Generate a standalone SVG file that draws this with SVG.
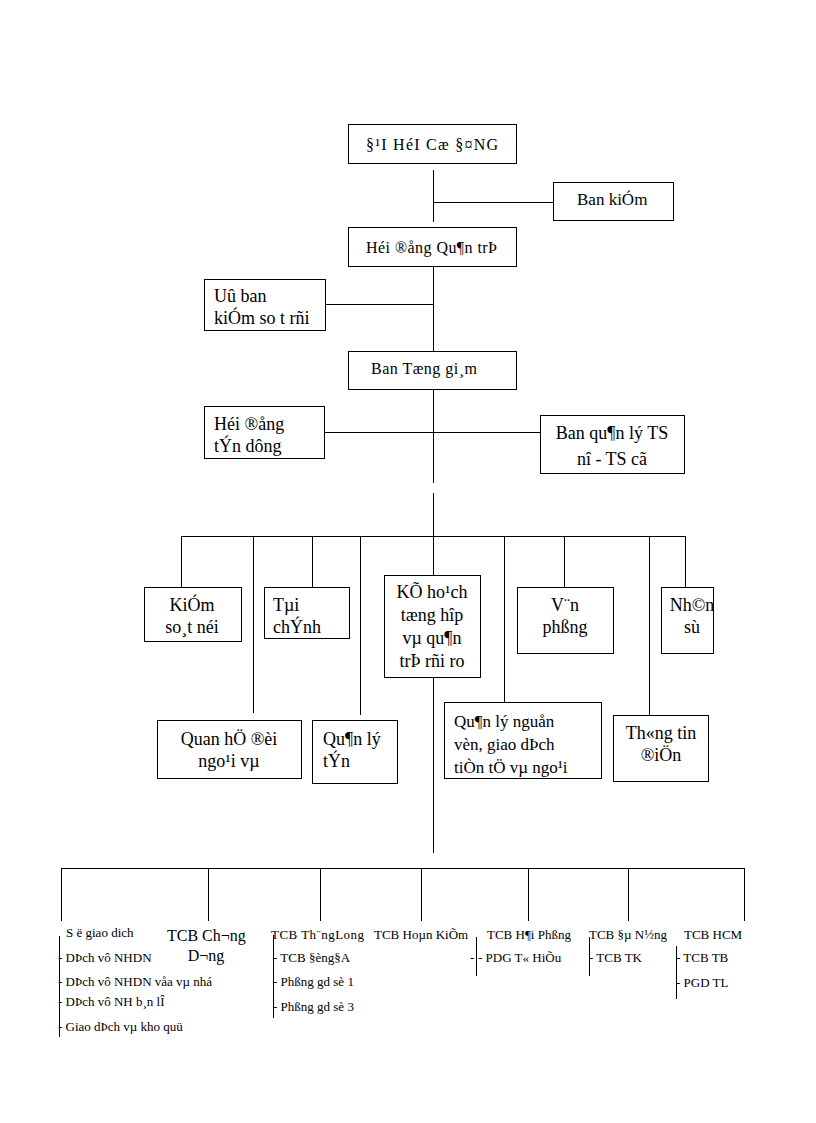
<svg xmlns="http://www.w3.org/2000/svg" width="816" height="1123" viewBox="0 0 816 1123">
<style>
.box{fill:#fff;stroke:#000;stroke-width:1}
.ln{stroke:#000;stroke-width:1;fill:none}
text{font-family:"Liberation Serif","Times New Roman",serif;fill:#000}
.t16{font-size:16px}
.t17{font-size:17px}
.t18{font-size:18px}
.t13{font-size:13px}
.c{text-anchor:middle}
</style>
<rect width="816" height="1123" fill="#fff"/>
<g id="connectors">
<path class="ln" d="M433.5 170V222M433.5 202.5H554M433.5 266V351M325 304.5H433.5M433.5 383V483M433.5 493V536M325 432.5H540"/>
<path class="ln" d="M181 536.5H685M181.5 536V587M253.5 536V713M312.5 536V587M360.5 536V715M433.5 536V575M504.5 536V702M564.5 536V587M649.5 536V715M685.5 536V587"/>
<path class="ln" d="M433.5 677V853M61 868.5H744M61.5 868V921M208.5 868V921M320.5 868V921M421.5 868V921M528.5 868V921M628.5 868V921M744.5 868V921"/>
<path class="ln" d="M59.5 936V1037M273.5 935V1018M476.5 937V976M589.5 937V976M676.5 946V999"/>
</g>
<g id="n_dhcd"><rect class="box" x="348.5" y="124.5" width="168" height="39"/><text class="t16" x="366" y="150" textLength="132" lengthAdjust="spacing">§¹I HéI Cæ §¤NG</text></g>
<g id="n_bks"><rect class="box" x="553.5" y="182.5" width="120" height="38"/><text class="t17" x="577" y="205">Ban kiÓm</text></g>
<g id="n_hdqt"><rect class="box" x="348.5" y="227.5" width="168" height="39"/><text class="t16" x="366" y="253" textLength="131" lengthAdjust="spacing">Héi ®ång Qu¶n trÞ</text></g>
<g id="n_ubks"><rect class="box" x="204.5" y="279.5" width="121" height="51"/><text class="t18" x="214" y="302">Uû ban</text><text class="t18" x="214" y="324">kiÓm so t rñi</text></g>
<g id="n_btgd"><rect class="box" x="348.5" y="351.5" width="168" height="38"/><text class="t16" x="371" y="374" textLength="106" lengthAdjust="spacing">Ban Tæng  gi¸m</text></g>
<g id="n_hdtd"><rect class="box" x="204.5" y="406.5" width="120" height="52"/><text class="t18" x="214" y="430">Héi ®ång</text><text class="t18" x="214" y="452">tÝn dông</text></g>
<g id="n_bqlts"><rect class="box" x="540.5" y="415.5" width="144" height="58"/><text class="t18 c" x="612" y="439">Ban qu¶n lý TS</text><text class="t18 c" x="612" y="465">nî - TS cã</text></g>
<g id="n_ksn"><rect class="box" x="144.5" y="587.5" width="97" height="54"/><text class="t18 c" x="192" y="611">KiÓm</text><text class="t18 c" x="192" y="633">so¸t néi</text></g>
<g id="n_tc"><rect class="box" x="264.5" y="587.5" width="85" height="51"/><text class="t18" x="273" y="611">Tµi</text><text class="t18" x="273" y="633">chÝnh</text></g>
<g id="n_kh"><rect class="box" x="384.5" y="575.5" width="96" height="102"/><text class="t18 c" x="432" y="598">KÕ ho¹ch</text><text class="t18 c" x="432" y="621">tæng hîp</text><text class="t18 c" x="432" y="644">vµ qu¶n</text><text class="t18 c" x="432" y="667">trÞ rñi ro</text></g>
<g id="n_vp"><rect class="box" x="517.5" y="587.5" width="96" height="66"/><text class="t18 c" x="565" y="611">V¨n</text><text class="t18 c" x="565" y="633">phßng</text></g>
<g id="n_ns"><rect class="box" x="661.5" y="587.5" width="52" height="66"/><text class="t18 c" x="692" y="611">Nh©n</text><text class="t18 c" x="692" y="633">sù</text></g>
<g id="n_qhdn"><rect class="box" x="157.5" y="720.5" width="144" height="58"/><text class="t18 c" x="229" y="745">Quan hÖ ®èi</text><text class="t18 c" x="229" y="767">ngo¹i vµ</text></g>
<g id="n_qltd"><rect class="box" x="312.5" y="720.5" width="85" height="63"/><text class="t18" x="323" y="745">Qu¶n lý</text><text class="t18" x="323" y="767">tÝn</text></g>
<g id="n_qlnv"><rect class="box" x="444.5" y="702.5" width="157" height="76"/><text class="t17" x="454" y="727">Qu¶n lý nguån</text><text class="t17" x="454" y="750">vèn, giao  dÞch</text><text class="t17" x="454" y="773">tiÒn tÖ vµ ngo¹i</text></g>
<g id="n_ttdt"><rect class="box" x="613.5" y="715.5" width="95" height="66"/><text class="t18 c" x="661" y="739">Th«ng tin</text><text class="t18 c" x="661" y="761">®iÖn</text></g>
<g id="n_sgd"><text class="t13" x="66" y="937">S ë giao dich</text><text class="t13" x="58" y="962">- DÞch vô NHDN</text><text class="t13" x="58" y="986">- DÞch vô NHDN  våa vµ nhá</text><text class="t13" x="58" y="1006">- DÞch vô NH  b¸n lÎ</text><text class="t13" x="58" y="1031">- Giao  dÞch vµ kho quü</text></g>
<g id="n_cd"><text class="t16" x="167" y="941">TCB  Ch¬ng</text><text class="t16 c" x="206" y="961">D¬ng</text></g>
<g id="n_tl"><text class="t13" x="271" y="939" textLength="93" lengthAdjust="spacing">TCB  Th¨ngLong</text><text class="t13" x="273" y="962">- TCB  §èng§A</text><text class="t13" x="273" y="986">- Phßng gd sè 1</text><text class="t13" x="273" y="1011">- Phßng gd sè 3</text></g>
<g id="n_hk"><text class="t13" x="374" y="939">TCB  Hoµn KiÕm</text></g>
<g id="n_hp"><text class="t13" x="487" y="939">TCB  H¶i Phßng</text><text class="t13" x="470" y="962">-</text><text class="t13" x="478" y="962">- PDG  T« HiÕu</text></g>
<g id="n_dn"><text class="t13" x="589" y="939">TCB  §µ N½ng</text><text class="t13" x="589" y="962">- TCB  TK</text></g>
<g id="n_hcm"><text class="t13" x="684" y="939">TCB  HCM</text><text class="t13" x="676" y="962">- TCB  TB</text><text class="t13" x="676" y="987">- PGD  TL</text></g>
</svg>
